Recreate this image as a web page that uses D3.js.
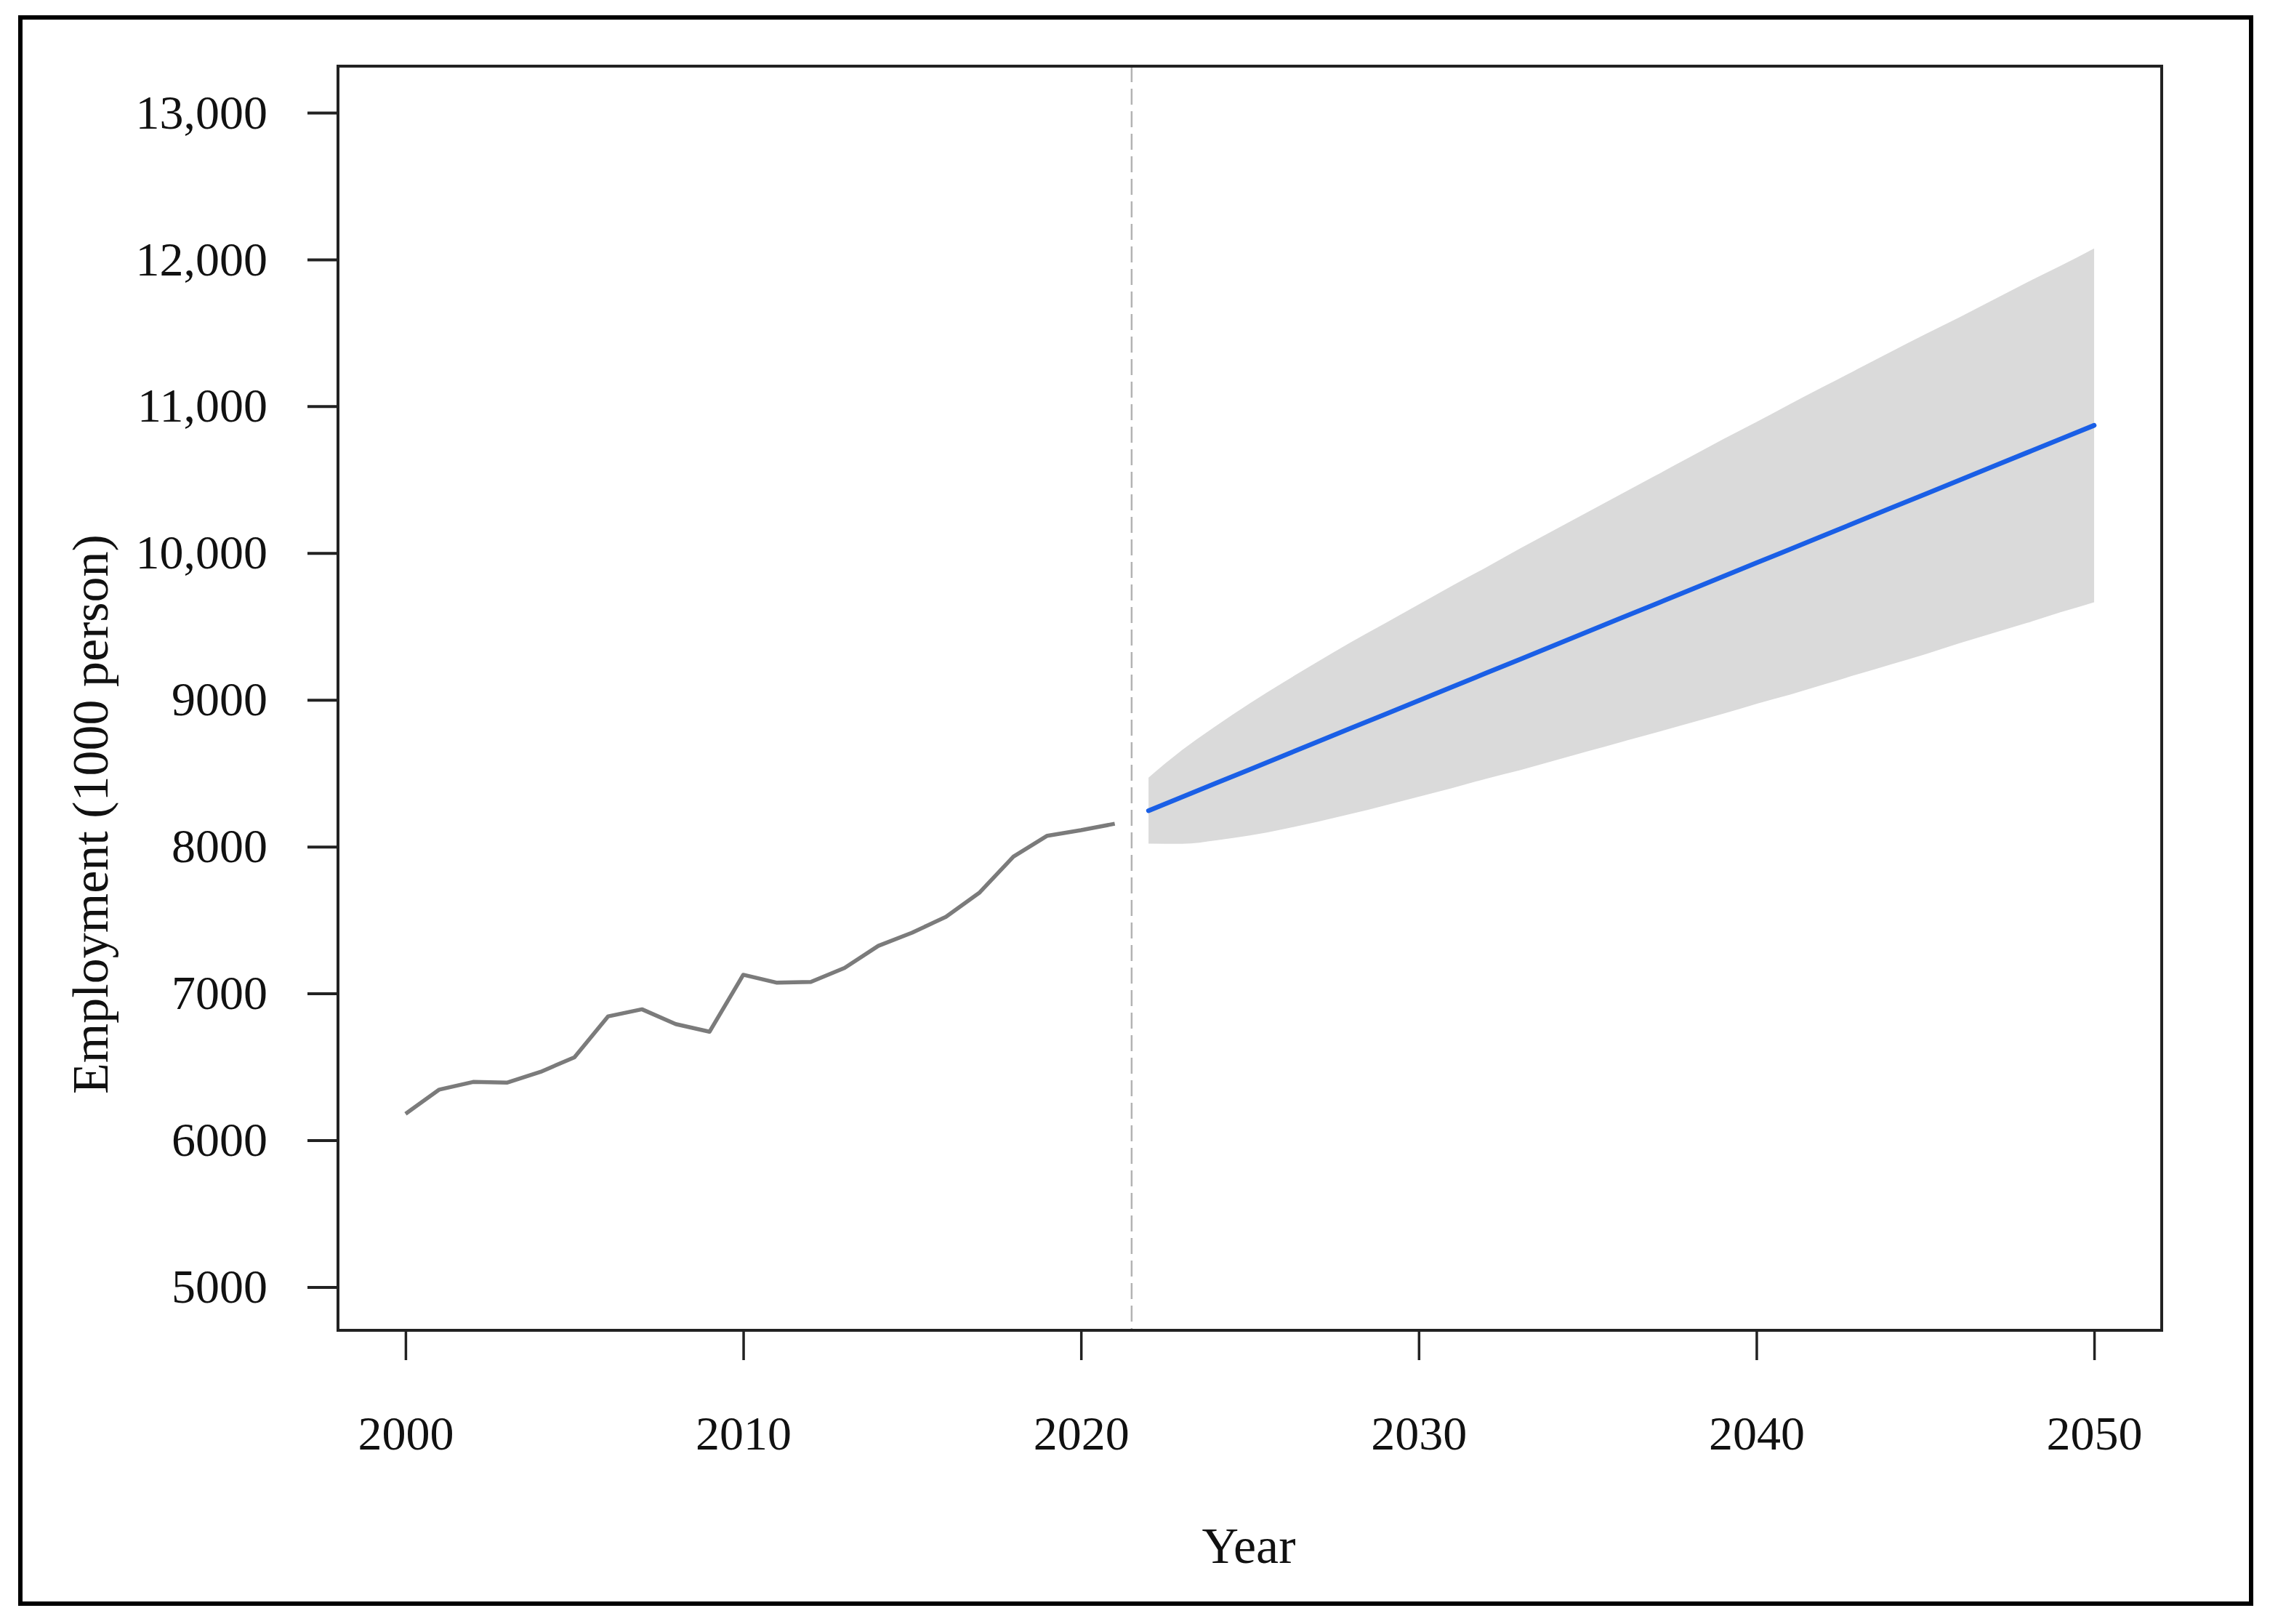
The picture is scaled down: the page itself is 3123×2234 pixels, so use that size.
<!DOCTYPE html>
<html>
<head>
<meta charset="utf-8">
<script src="https://cdn.jsdelivr.net/npm/d3@7"></script>
<style>
  html, body { margin: 0; padding: 0; background: #ffffff; }
  svg { display: block; }
  text { font-family: "Liberation Serif", "Times New Roman", serif; fill: #111; }
</style>
</head>
<body>
<svg id="chart" width="3123" height="2234"></svg>
<script>
// ---------- data ----------
const histYears = [2000,2001,2002,2003,2004,2005,2006,2007,2008,2009,2010,2011,2012,2013,2014,2015,2016,2017,2018,2019,2020,2021];
const histValues = [6180,6345,6397,6392,6466,6565,6844,6892,6791,6739,7127,7073,7078,7174,7324,7414,7522,7688,7932,8074,8112,8156];

const fcYears = [2022,2023,2024,2025,2026,2027,2028,2029,2030,2031,2032,2033,2034,2035,2036,2037,2038,2039,2040,2041,2042,2043,2044,2045,2046,2047,2048,2049,2050];
const fcMean  = [8245,8339,8433,8526,8620,8714,8808,8901,8995,9089,9183,9276,9370,9464,9558,9651,9745,9839,9933,10026,10120,10214,10308,10401,10495,10589,10683,10776,10870];
const fcLower = [8020,8019,8043,8076,8120,8169,8223,8281,8340,8399,8463,8521,8585,8649,8713,8776,8840,8904,8973,9036,9105,9174,9243,9311,9385,9454,9523,9596,9665];
const fcUpper = [8470,8659,8823,8976,9120,9259,9393,9521,9650,9779,9903,10031,10155,10279,10403,10526,10650,10774,10893,11016,11135,11254,11373,11491,11605,11724,11843,11956,12075];

const xTicks = [2000, 2010, 2020, 2030, 2040, 2050];
const xTickLabels = ["2000", "2010", "2020", "2030", "2040", "2050"];
const yTicks = [5000, 6000, 7000, 8000, 9000, 10000, 11000, 12000, 13000];
const yTickLabels = ["5000", "6000", "7000", "8000", "9000", "10,000", "11,000", "12,000", "13,000"];
const splitYear = 2021.5;
const xTitle = "Year";
const yTitle = "Employment (1000 person)";

// ---------- layout ----------
const plot = { left: 465, right: 2974, top: 91, bottom: 1830 };
const svg = d3.select("#chart");

svg.append("rect").attr("x", 0).attr("y", 0).attr("width", 3123).attr("height", 2234).attr("fill", "#fff");
// outer frame
svg.append("rect").attr("x", 28).attr("y", 24).attr("width", 3069).attr("height", 2182)
  .attr("fill", "none").attr("stroke", "#000").attr("stroke-width", 6);

const x = d3.scaleLinear().domain([1998, 2052]).range([plot.left, plot.right]);
const y = d3.scaleLinear().domain([4705, 13317]).range([plot.bottom, plot.top]);

const g = svg.append("g");

// forecast band
const fc = fcYears.map((yr, i) => ({ yr, m: fcMean[i], lo: fcLower[i], hi: fcUpper[i] }));
g.append("path").datum(fc)
  .attr("d", d3.area().curve(d3.curveMonotoneX).x(d => x(d.yr)).y0(d => y(d.lo)).y1(d => y(d.hi)))
  .attr("fill", "#dadada");

// split line
g.append("line")
  .attr("x1", x(splitYear)).attr("x2", x(splitYear))
  .attr("y1", plot.top).attr("y2", plot.bottom)
  .attr("stroke", "#b3b3b3").attr("stroke-width", 2.5).attr("stroke-dasharray", "22,9");

// history line
const hist = histYears.map((yr, i) => ({ yr, v: histValues[i] }));
g.append("path").datum(hist)
  .attr("d", d3.line().x(d => x(d.yr)).y(d => y(d.v)))
  .attr("fill", "none").attr("stroke", "#7b7b7b").attr("stroke-width", 5.5)
  .attr("stroke-linejoin", "round");

// forecast mean
g.append("path").datum(fc)
  .attr("d", d3.line().x(d => x(d.yr)).y(d => y(d.m)))
  .attr("fill", "none").attr("stroke", "#1a5fe6").attr("stroke-width", 6.5)
  .attr("stroke-linecap", "round");

// plot box
svg.append("rect")
  .attr("x", plot.left).attr("y", plot.top)
  .attr("width", plot.right - plot.left).attr("height", plot.bottom - plot.top)
  .attr("fill", "none").attr("stroke", "#222").attr("stroke-width", 4);

// axes
const xAxis = d3.axisBottom(x).tickValues(xTicks)
  .tickFormat((d, i) => xTickLabels[i]).tickSize(41).tickPadding(76);
const xg = svg.append("g").attr("transform", `translate(0,${plot.bottom})`).call(xAxis);
xg.select(".domain").remove();
xg.selectAll(".tick line").attr("stroke", "#222").attr("stroke-width", 3.5);
xg.selectAll(".tick text").attr("font-size", 66).attr("font-family", "Liberation Serif, serif").attr("fill", "#111");

const yAxis = d3.axisLeft(y).tickValues(yTicks)
  .tickFormat((d, i) => yTickLabels[i]).tickSize(42).tickPadding(55);
const yg = svg.append("g").attr("transform", `translate(${plot.left},0)`).call(yAxis);
yg.select(".domain").remove();
yg.selectAll(".tick line").attr("stroke", "#222").attr("stroke-width", 4);
yg.selectAll(".tick text").attr("font-size", 66).attr("font-family", "Liberation Serif, serif").attr("fill", "#111");

// titles
svg.append("text").text(xTitle)
  .attr("x", 1718).attr("y", 2150).attr("text-anchor", "middle")
  .attr("font-size", 70);
svg.append("text").text(yTitle)
  .attr("transform", "translate(148,1120) rotate(-90)")
  .attr("text-anchor", "middle").attr("font-size", 70);
</script>
</body>
</html>
